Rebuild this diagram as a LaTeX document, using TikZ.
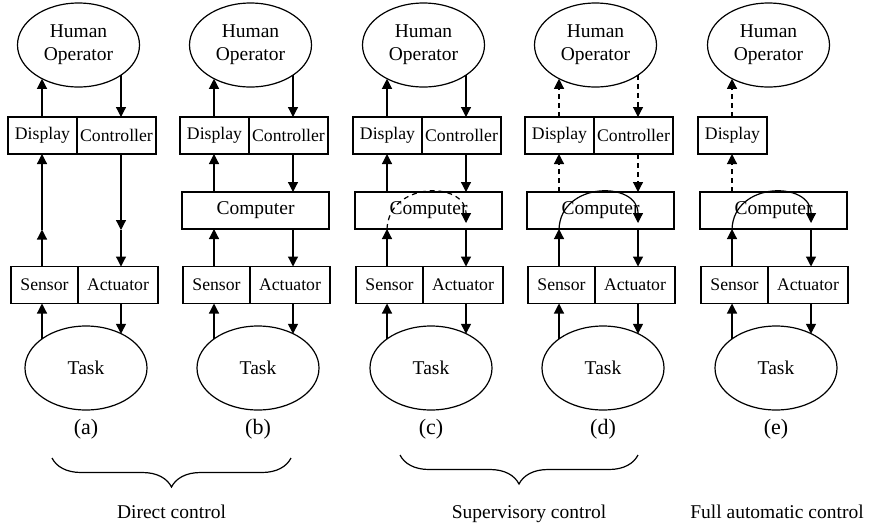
\documentclass[tikz,border=0pt]{standalone}
\usepackage{fontspec}
\setmainfont{Liberation Serif}
\newfontfamily\tnr{Liberation Serif}
\usetikzlibrary{arrows.meta,shapes.geometric,decorations.pathreplacing,calc}
\begin{document}
\begin{tikzpicture}[x=1pt,y=-1pt,
  every node/.style={inner sep=0pt, outer sep=0pt},
  ell/.style={draw, ellipse, line width=1.2pt, minimum width=122pt, minimum height=84pt, align=center, font=\tnr\fontsize{19.5}{23}\selectfont},
  box/.style={draw, rectangle, line width=1.3pt, minimum height=37pt, font=\tnr\fontsize{17.7}{20}\selectfont},
  cbox/.style={draw, rectangle, line width=1.3pt, minimum height=37pt, font=\tnr\fontsize{19.5}{22}\selectfont},
  arr/.style={line width=1.2pt, -{Triangle[length=10pt,width=10pt]}},
  darr/.style={arr, dash pattern=on 5pt off 4pt},
  lab/.style={font=\tnr\fontsize{22}{24}\selectfont, anchor=base},
  captxt/.style={font=\tnr\fontsize{19.5}{22}\selectfont, anchor=base},
  brc/.style={line width=1.2pt, decorate, decoration={brace, mirror, amplitude=29pt}}
]
\useasboundingbox (0,0) rectangle (869,523);

% common parts of all five columns
\foreach \c/\X/\st in {a/42/arr,b/214/arr,c/387/arr,d/559/darr,e/732/darr} {
  \coordinate (L\c) at (\X,0);
  \coordinate (R\c) at (\X+79,0);
  \node[ell] (HO\c) at (\X+36.5,45) {Human\\Operator};
  \node[box, minimum width=69pt] (D\c) at (\X+0.5,135.5) {Display};
  \node[box, minimum width=67pt] (S\c) at (\X+2.5,285) {Sensor};
  \node[box, minimum width=80pt] (A\c) at (\X+76,285) {Actuator};
  \node[ell] (T\c) at (\X+44,368) {Task};
  \node[lab] (lab\c) at (\X+44,434) {(\c)};
  \draw[arr] (T\c.147 -| L\c) -- (S\c.south -| L\c);
  \draw[arr] (A\c.south -| R\c) -- (T\c.44 -| R\c);
  \draw[\st] (D\c.north -| L\c) -- (HO\c.223 -| L\c);
}
% controllers
\foreach \c/\X/\st in {a/42/arr,b/214/arr,c/387/arr,d/559/darr} {
  \node[box, minimum width=79pt] (K\c) at (\X+74.5,135.5) {Controller};
  \draw[\st] (HO\c.325 -| R\c) -- (K\c.north -| R\c);
}
% computers
\foreach \c/\X/\st in {b/214/arr,c/387/arr,d/559/darr,e/732/darr} {
  \node[cbox, minimum width=147pt] (C\c) at (\X+41.5,210.5) {Computer};
  \draw[arr] (S\c.north -| L\c) -- (C\c.south -| L\c);
  \draw[arr] (C\c.south -| R\c) -- (A\c.north -| R\c);
  \draw[\st] (C\c.north -| L\c) -- (D\c.south -| L\c);
}
\foreach \c/\st in {b/arr,c/arr,d/darr} {
  \draw[\st] (K\c.south -| R\c) -- (C\c.north -| R\c);
}

% (a) direct links
\coordinate (Ma) at (42,229.5);
\coordinate (Na) at (121,230);
\draw[arr] (Sa.north -| La) -- (Ma);
\draw[arr] (Ma) -- (Da.south -| La);
\draw[arr] (Ka.south -| Ra) -- (Na);
\draw[arr] (Na) -- (Aa.north -| Ra);

% loops inside the computer
\foreach \c/\st in {c/darr,d/arr,e/arr} {
  \draw[\st] (C\c.south -| L\c) .. controls +(2,-48) and +(0,-42) .. ($(C\c.south -| R\c)+(0,-6)$);
}

% braces and captions
\coordinate (b1s) at (52,458);
\coordinate (b1e) at (291,458);
\coordinate (b2s) at (400,455);
\coordinate (b2e) at (638,455);
\draw[brc] (b1s) -- (b1e);
\draw[brc] (b2s) -- (b2e);
\node[captxt] (cap1) at (171.5,518) {Direct control};
\node[captxt] (cap2) at (529,518) {Supervisory control};
\node[captxt] (cap3) at (777,518) {Full automatic control};
\end{tikzpicture}
\end{document}
